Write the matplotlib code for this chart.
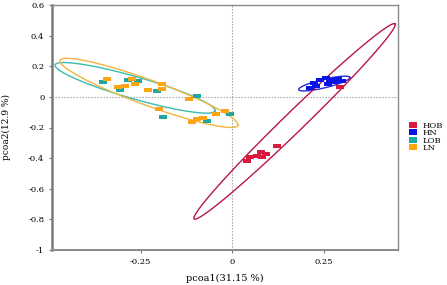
import numpy as np
import matplotlib
matplotlib.use("Agg")
import matplotlib.pyplot as plt
from matplotlib.lines import Line2D

plt.rcParams['font.family'] = ['DejaVu Serif']

GROUPS = ["HOB", "HN", "LOB", "LN"]
COLORS = {"HOB": "#d81b3c", "HN": "#0a14e6", "LOB": "#1fa8a0", "LN": "#ffa410"}
ELLIPSE_COLORS = {"HOB": "#b8174a", "HN": "#2a2ad8", "LOB": "#3cbcb0", "LN": "#f2b640"}

# sample scores (pcoa1, pcoa2)
hob_x = [0.041, 0.049, 0.068, 0.079, 0.093, 0.082, 0.123, 0.295]
hob_y = [-0.418, -0.392, -0.386, -0.359, -0.373, -0.392, -0.320, 0.065]
hn_x = [0.213, 0.224, 0.240, 0.257, 0.268, 0.279, 0.290, 0.301, 0.262, 0.230]
hn_y = [0.059, 0.092, 0.111, 0.124, 0.111, 0.098, 0.118, 0.105, 0.085, 0.072]
lob_x = [-0.352, -0.306, -0.284, -0.257, -0.205, -0.096, -0.189, -0.068, -0.005]
lob_y = [0.098, 0.046, 0.111, 0.105, 0.039, 0.007, -0.131, -0.157, -0.111]
ln_x = [-0.342, -0.311, -0.292, -0.273, -0.265, -0.230, -0.191, -0.191, -0.117,
        -0.199, -0.109, -0.096, -0.079, -0.044, -0.019]
ln_y = [0.118, 0.065, 0.072, 0.118, 0.085, 0.046, 0.085, 0.052, -0.013,
        -0.078, -0.163, -0.144, -0.137, -0.111, -0.092]

# confidence ellipses: center, semi-axis vector 1, semi-axis vector 2
ell_center = {"HOB": (0.171, -0.160), "HN": (0.252, 0.087),
              "LOB": (-0.265, 0.059), "LN": (-0.227, 0.026)}
ell_major = {"HOB": (0.2745, 0.637), "HN": (0.070, 0.040),
             "LOB": (0.2186, -0.150), "LN": (0.243, -0.212)}
ell_minor = {"HOB": (0.019, -0.047), "HN": (0.0030, -0.027),
             "LOB": (-0.0083, -0.0695), "LN": (-0.0119, -0.078)}

POINTS = {"HOB": (hob_x, hob_y), "HN": (hn_x, hn_y),
          "LOB": (lob_x, lob_y), "LN": (ln_x, ln_y)}

RECT = [(-1, -0.65), (1, -0.65), (1, 0.65), (-1, 0.65), (-1, -0.65)]

fig = plt.figure(figsize=(4.47, 2.85), dpi=100)
ax = fig.add_axes([52 / 447, 1 - 250 / 285, 346 / 447, 245 / 285])

ax.axhline(0, color="#9a9a9a", lw=0.8, ls=(0, (1.2, 1.5)), zorder=1)
ax.axvline(0, color="#9a9a9a", lw=0.8, ls=(0, (1.2, 1.5)), zorder=1)

t = np.linspace(0, 2 * np.pi, 400)
for g in ["HN", "HOB", "LOB", "LN"]:
    cx, cy = ell_center[g]
    mx, my = ell_major[g]
    nx, ny = ell_minor[g]
    ax.plot(cx + mx * np.cos(t) + nx * np.sin(t),
            cy + my * np.cos(t) + ny * np.sin(t),
            color=ELLIPSE_COLORS[g], lw=1.0, zorder=2)

for g in ["LOB", "LN", "HN", "HOB"]:
    xs, ys = POINTS[g]
    ax.scatter(xs, ys, marker=RECT, s=26, color=COLORS[g], lw=0, zorder=3)

ax.set_xlim(-0.492, 0.4536)
ax.set_ylim(-1, 0.6)
ax.set_xticks([-0.25, 0, 0.25])
ax.set_xticklabels(["-0.25", "0", "0.25"])
yt = [-1, -0.8, -0.6, -0.4, -0.2, 0, 0.2, 0.4, 0.6]
ax.set_yticks(yt)
ax.set_yticklabels(["-1", "-0.8", "-0.6", "-0.4", "-0.2", "0", "0.2", "0.4", "0.6"])
ax.tick_params(labelsize=6, length=2.5, width=0.8, color="#777777", pad=3)

for side in ["top", "right", "bottom"]:
    ax.spines[side].set_color("#8a8a8a")
    ax.spines[side].set_linewidth(1.0)
ax.spines["left"].set_color("#7a7a7a")
ax.spines["left"].set_linewidth(1.8)
ax.spines["bottom"].set_linewidth(1.4)

ax.set_xlabel("pcoa1(31.15 %)", fontsize=7, va="center")
ax.xaxis.set_label_coords(0.5, -(278 - 250) / 245)
ax.set_ylabel("pcoa2(12.9 %)", fontsize=6.5, labelpad=12)

handles = [Line2D([], [], marker=RECT, ls="", markersize=6, markeredgewidth=0,
                  color=COLORS[g]) for g in GROUPS]
fig.legend(handles, GROUPS, loc="center left", bbox_to_anchor=(402 / 447, 1 - 137 / 285),
           frameon=False, fontsize=6, labelspacing=-0.05, handlelength=1.2,
           handletextpad=0.6, borderpad=0.2)

fig.savefig("out.png", dpi=100)
